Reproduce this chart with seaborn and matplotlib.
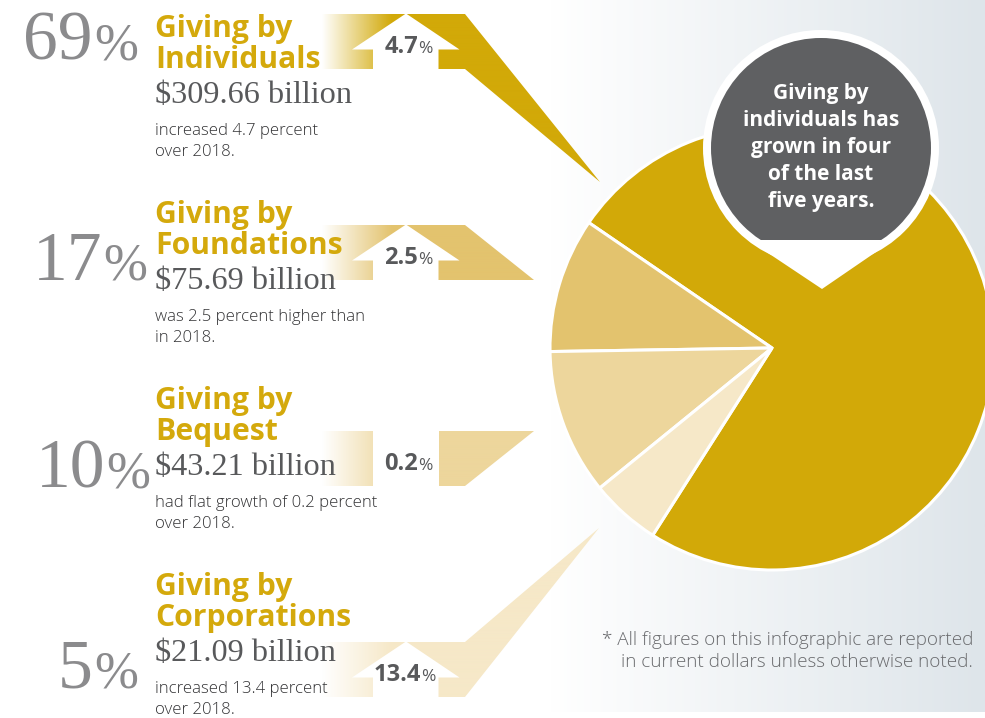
import numpy as np
import matplotlib
matplotlib.use("Agg")
import matplotlib.pyplot as plt
import matplotlib.colors as mcolors
from matplotlib.patches import Polygon, Circle, Rectangle
import seaborn as sns

# ---------------- data ----------------
categories = ["Individuals", "Foundations", "Bequest", "Corporations"]
share_pct = [69, 17, 10, 5]
amount_billion = [309.66, 75.69, 43.21, 21.09]
growth_pct = [4.7, 2.5, 0.2, 13.4]
desc_line1 = ["increased 4.7 percent", "was 2.5 percent higher than",
              "had flat growth of 0.2 percent", "increased 13.4 percent"]
desc_line2 = ["over 2018.", "in 2018.", "over 2018.", "over 2018."]
# slice sizes as drawn in the reference pie
pie_drawn_share = [74.4, 9.8, 10.6, 5.1]
callout_lines = ["Giving by", "individuals has", "grown in four", "of the last", "five years."]
footnote_lines = ["* All figures on this infographic are reported",
                  "in current dollars unless otherwise noted."]

# ---------------- style ----------------
sns.set_theme(style="white")
plt.rcParams['font.family'] = ['Open Sans', 'DejaVu Sans']

slice_colors = ["#d2a908", "#e3c36e", "#edd69c", "#f6e8c8"]
gold_text = "#d4a90c"
pct_grey = "#8b8b8d"
dark_grey = "#58595b"
desc_grey = "#333335"
SERIF = ['Liberation Serif', 'DejaVu Serif']
SANS = ['Open Sans', 'DejaVu Sans']

W, H = 985, 718
fig = plt.figure(figsize=(W / 100, H / 100), dpi=100)
ax = fig.add_axes([0, 0, 1, 1])
ax.set_xlim(0, W)
ax.set_ylim(H, 0)
ax.set_axis_off()
fig.patch.set_facecolor("white")

# background gradient on the right
bg_end = np.array(mcolors.to_rgb("#dee5ea"))
xs = np.linspace(0, 1, 400)
bg = (1 - xs)[:, None] * np.ones(3)[None, :] + xs[:, None] * bg_end[None, :]
ax.imshow(bg[None, :, :], extent=(550, W, 712, 0), aspect='auto',
          interpolation='bilinear', zorder=0)

# ---------------- pie ----------------
wedges, _ = ax.pie(pie_drawn_share, colors=slice_colors, center=(772, 348), radius=222,
                   startangle=122.5, counterclock=False,
                   wedgeprops=dict(edgecolor="white", linewidth=2.2), frame=True)
for w in wedges:
    w.set_zorder(1)

# ---------------- bands / arrows ----------------
band_top = [14, 225, 431, 642]
band_h = 55


def grad_band(pts, color):
    poly = Polygon(pts, closed=True, facecolor='none', edgecolor='none')
    ax.add_patch(poly)
    gx = np.linspace(300, 620, 640)
    t = np.clip((gx - 322) / (392 - 322), 0, 1)
    c = np.array(mcolors.to_rgb(color))
    img = (1 - t)[:, None] * np.ones(3)[None, :] + t[:, None] * c[None, :]
    ys = [p[1] for p in pts]
    im = ax.imshow(img[None, :, :], extent=(300, 620, max(ys), min(ys)), aspect='auto',
                   interpolation='bilinear', zorder=2)
    im.set_clip_path(poly)


shapes = []
t0, b0 = band_top[0], band_top[0] + band_h
shapes.append([(322, t0), (465, t0), (600, 182), (465, b0), (322, b0)])
t1, b1 = band_top[1], band_top[1] + band_h
shapes.append([(322, t1), (465, t1), (534, b1), (322, b1)])
t2, b2 = band_top[2], band_top[2] + band_h
shapes.append([(322, t2), (534, t2), (465, b2), (322, b2)])
t3, b3 = band_top[3], band_top[3] + band_h
shapes.append([(322, t3), (465, t3), (599, 528), (465, b3), (322, b3)])

for i in range(4):
    grad_band(shapes[i], slice_colors[i])
    top, bot = band_top[i], band_top[i] + band_h
    if growth_pct[i] >= 1:
        hb = bot - 19.5
        arrow = [(373, bot + 1), (373, hb), (352, hb), (406, top - 0.5), (459.5, hb),
                 (438.5, hb), (438.5, bot + 1)]
        ax.add_patch(Polygon(arrow, closed=True, facecolor="white", edgecolor="none", zorder=3))
    else:
        ax.add_patch(Rectangle((373, top - 1), 65.5, band_h + 2, facecolor="white",
                               edgecolor="none", zorder=3))
    num_right = 421 if growth_pct[i] >= 10 else 418
    ax.text(num_right, bot - 16, f"{growth_pct[i]:.1f}", ha='right', va='baseline',
            fontsize=17, fontweight='bold', color=dark_grey, family=SANS, zorder=4)
    ax.text(num_right + 0.5, bot - 16, "%", ha='left', va='baseline',
            fontsize=12.5, color=dark_grey, family=SANS, zorder=4)

# ---------------- left text blocks ----------------
row_base = [37, 223, 409, 595]
pct_right = [138, 147, 150, 138]
pct_base_off = [22, 57, 78, 93]
for i in range(4):
    b = row_base[i]
    ax.text(155, b, "Giving by", fontsize=21.7, fontweight='bold', color=gold_text,
            family=SANS, va='baseline', ha='left', zorder=4)
    ax.text(155, b + 31, categories[i], fontsize=21.7, fontweight='bold', color=gold_text,
            family=SANS, va='baseline', ha='left', zorder=4)
    ax.text(155, b + 66, f"\\${amount_billion[i]:.2f} billion", fontsize=23.2, color=dark_grey,
            family=SERIF, va='baseline', ha='left', zorder=4)
    ax.text(155, b + 98, desc_line1[i], fontsize=12.1, fontweight='light', color=desc_grey,
            family=SANS, va='baseline', ha='left', zorder=4)
    ax.text(155, b + 119, desc_line2[i], fontsize=12.1, fontweight='light', color=desc_grey,
            family=SANS, va='baseline', ha='left', zorder=4)
    yb = b + pct_base_off[i]
    ax.text(pct_right[i], yb, "%", fontsize=38, color=pct_grey,
            family=SERIF, va='baseline', ha='right', zorder=4)
    ax.text(pct_right[i] - 45, yb, f"{share_pct[i]}", fontsize=50, color=pct_grey,
            family=SERIF, va='baseline', ha='right', zorder=4)

# ---------------- callout bubble ----------------
bx, by = 821, 148
ax.add_patch(Circle((bx, by), 118, facecolor="white", edgecolor="none", zorder=5))
ax.add_patch(Polygon([(747, 239), (822, 289), (895, 239)], closed=True,
                     facecolor="white", edgecolor="none", zorder=5))
dark = Circle((bx, by), 110, facecolor="#5f6062", edgecolor="none", zorder=6)
ax.add_patch(dark)
clip = Rectangle((bx - 130, by - 130), 260, 239.5 - (by - 130), transform=ax.transData,
                 facecolor='none', edgecolor='none')
dark.set_clip_path(clip)
for k, line in enumerate(callout_lines):
    ax.text(bx, 99 + 27 * k, line, ha='center', va='baseline', fontsize=15,
            fontweight='bold', color="white", family=SANS, zorder=7)

# ---------------- footnote ----------------
ax.text(973, 645, footnote_lines[0], ha='right', va='baseline', fontsize=13.6,
        fontweight='light', color="#6a6b6e", family=SANS, zorder=4)
ax.text(973, 667, footnote_lines[1], ha='right', va='baseline', fontsize=13.6,
        fontweight='light', color="#6a6b6e", family=SANS, zorder=4)

ax.set_xlim(0, W)
ax.set_ylim(H, 0)
fig.savefig("out.png", dpi=100, facecolor="white")
